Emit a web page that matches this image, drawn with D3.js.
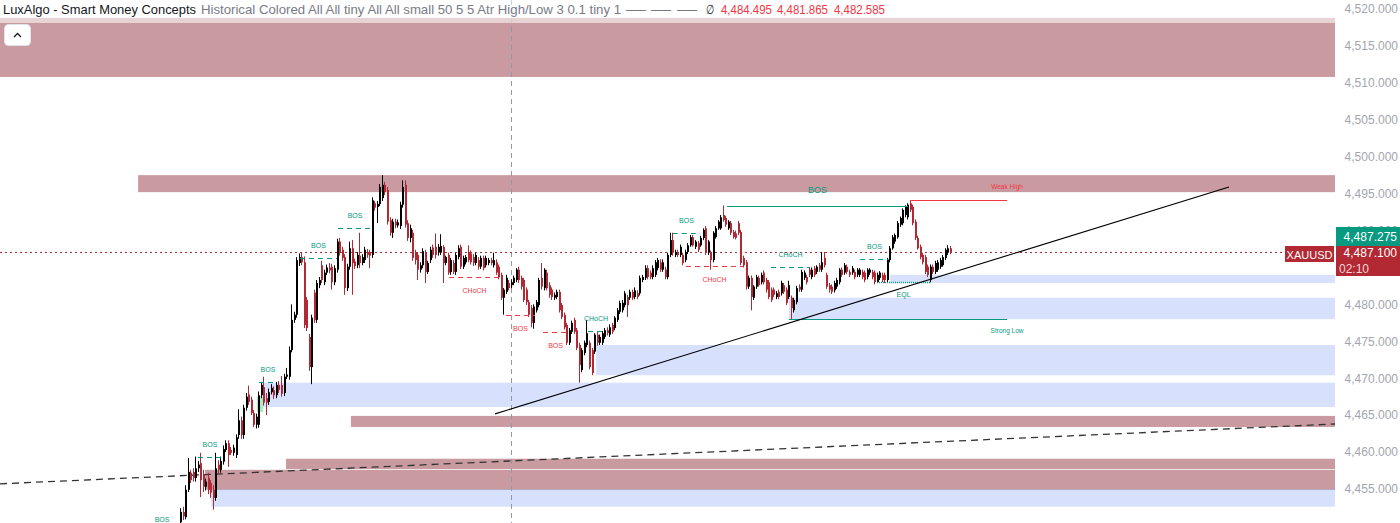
<!DOCTYPE html>
<html>
<head>
<meta charset="utf-8">
<script src="https://d3js.org/d3.v7.min.js"></script>
<style>
  body { margin: 0; background: #fff; }
  svg { display: block; font-family: "Liberation Sans", Arial, sans-serif; }
</style>
</head>
<body>
<main></main>
<script>
// ---- data ----
// candles: [open, high, low, close] (XAUUSD)
const candles = [
  [4450.5,4452.4,4450.0,4451.9],[4451.9,4452.6,4450.8,4451.3],[4451.2,4455.5,4450.9,4454.9],[4454.9,4459.2,4454.6,4457.3],
  [4457.2,4457.6,4455.8,4456.2],[4457.3,4457.8,4456.0,4456.5],[4456.5,4459.4,4456.0,4457.8],[4457.8,4458.8,4457.3,4458.3],
  [4458.5,4459.9,4453.9,4456.2],[4457.0,4457.6,4454.6,4455.3],[4455.3,4456.4,4454.8,4456.0],[4456.5,4457.2,4454.3,4454.9],
  [4455.8,4456.2,4453.8,4454.5],[4454.9,4455.5,4452.2,4453.8],[4453.8,4459.9,4453.4,4457.8],[4458.3,4458.9,4457.0,4457.6],
  [4457.6,4459.4,4457.2,4458.8],[4458.7,4460.9,4458.3,4460.4],[4460.3,4461.6,4460.0,4461.2],[4461.2,4461.6,4458.0,4459.6],
  [4460.3,4460.7,4459.6,4459.9],[4459.9,4461.0,4459.5,4460.6],[4459.6,4462.4,4459.2,4462.0],[4462.3,4465.8,4461.8,4464.3],
  [4464.3,4464.8,4461.8,4462.3],[4462.3,4466.4,4461.8,4466.0],[4466.0,4468.0,4465.6,4467.5],[4467.8,4469.0,4466.4,4466.8],
  [4467.1,4467.5,4465.0,4465.3],[4465.3,4465.7,4463.4,4463.7],[4463.7,4465.2,4463.2,4464.8],[4463.7,4468.2,4463.3,4467.7],
  [4467.7,4469.5,4467.3,4469.1],[4468.8,4470.2,4466.3,4466.7],[4467.3,4468.0,4465.0,4466.7],[4466.8,4468.6,4466.4,4468.1],
  [4468.1,4469.2,4467.8,4468.7],[4468.4,4468.9,4467.2,4467.7],[4467.7,4469.5,4467.3,4469.1],[4469.1,4469.6,4468.0,4468.4],
  [4469.1,4470.3,4467.5,4467.9],[4468.0,4470.6,4467.6,4470.2],[4470.2,4471.4,4469.9,4470.5],[4470.2,4474.3,4469.8,4473.8],
  [4473.8,4480.0,4473.5,4477.9],[4477.9,4479.0,4477.5,4478.6],[4478.6,4486.4,4478.2,4486.0],[4485.6,4486.9,4485.2,4486.4],
  [4486.4,4487.0,4485.3,4485.7],[4485.7,4486.5,4476.8,4477.2],[4480.6,4481.0,4476.4,4476.8],[4475.6,4476.0,4471.0,4471.5],
  [4471.5,4478.6,4469.2,4478.2],[4481.6,4482.0,4477.5,4477.9],[4477.9,4483.3,4477.5,4482.9],[4482.6,4483.7,4482.2,4483.3],
  [4485.3,4485.9,4482.9,4483.3],[4483.0,4484.7,4482.6,4484.3],[4484.3,4485.4,4484.0,4485.0],[4485.0,4485.6,4484.2,4484.6],
  [4485.1,4485.5,4482.0,4483.0],[4483.0,4485.3,4482.6,4484.9],[4484.7,4488.9,4484.3,4488.5],[4488.5,4489.0,4486.6,4487.0],
  [4487.4,4487.8,4485.9,4486.3],[4486.4,4486.8,4481.3,4482.2],[4482.2,4485.5,4481.8,4485.1],[4485.1,4488.5,4484.7,4487.6],
  [4487.6,4488.7,4481.3,4485.6],[4485.8,4486.2,4484.8,4485.2],[4485.3,4487.1,4484.9,4486.7],[4486.6,4489.7,4484.9,4485.6],
  [4485.6,4486.8,4485.3,4486.4],[4486.0,4487.8,4485.6,4487.4],[4487.1,4487.5,4486.3,4486.7],[4487.0,4487.4,4484.9,4486.6],
  [4486.7,4494.5,4486.3,4494.1],[4493.7,4494.0,4492.7,4493.1],[4493.2,4494.0,4491.0,4493.6],[4493.6,4496.3,4493.3,4495.9],
  [4494.4,4497.5,4494.0,4496.2],[4496.2,4496.6,4494.8,4495.2],[4495.5,4495.9,4490.8,4491.2],[4491.4,4491.8,4489.3,4489.7],
  [4489.7,4491.6,4489.0,4491.2],[4491.2,4491.6,4490.3,4490.7],[4490.7,4491.5,4490.4,4491.1],[4490.6,4493.9,4490.2,4493.5],
  [4493.5,4496.8,4493.1,4495.9],[4496.2,4496.8,4490.4,4490.8],[4491.0,4491.4,4488.6,4489.0],[4489.0,4490.8,4488.4,4490.3],
  [4489.7,4490.1,4485.9,4486.3],[4487.0,4487.4,4485.4,4486.0],[4486.7,4487.1,4483.3,4484.7],[4484.7,4485.7,4484.3,4485.3],
  [4485.3,4487.6,4484.9,4487.2],[4487.0,4487.4,4482.9,4484.4],[4484.4,4485.9,4484.1,4485.6],[4486.0,4487.8,4485.6,4487.4],
  [4487.7,4488.1,4486.3,4486.7],[4487.8,4489.6,4486.2,4486.7],[4487.0,4488.2,4486.6,4487.8],[4487.1,4489.5,4486.7,4487.9],
  // from the CHoCH shelf onwards
  [4487.8,4488.0,4482.9,4485.6],[4485.6,4486.6,4485.3,4486.4],[4486.7,4487.0,4484.0,4484.3],[4484.4,4486.3,4484.0,4486.0],
  [4485.6,4486.0,4484.1,4484.4],[4484.4,4487.0,4484.0,4486.7],[4486.4,4488.0,4486.1,4487.6],[4487.8,4488.1,4484.8,4485.1],
  [4485.1,4486.6,4484.8,4486.3],[4485.7,4486.7,4485.4,4486.4],[4487.1,4488.0,4485.7,4486.0],[4486.9,4487.3,4485.4,4485.7],
  [4486.4,4486.8,4485.2,4485.6],[4485.6,4487.0,4485.3,4486.7],[4486.0,4486.4,4484.7,4485.1],[4485.1,4486.6,4484.8,4486.3],
  [4486.3,4486.6,4484.6,4484.9],[4485.3,4486.6,4485.0,4486.3],[4485.6,4486.3,4485.3,4486.0],[4486.0,4486.3,4485.3,4485.6],
  [4485.3,4487.0,4485.0,4486.0],[4485.7,4486.1,4484.0,4484.3],[4485.1,4485.4,4483.4,4483.7],[4484.0,4484.3,4480.6,4480.9],
  [4480.9,4482.2,4478.6,4482.0],[4481.7,4484.0,4481.4,4483.6],[4482.9,4483.3,4481.9,4482.2],[4482.6,4483.4,4482.2,4483.0],
  [4482.9,4483.9,4482.6,4483.6],[4483.3,4484.9,4483.0,4484.7],[4484.7,4485.1,4482.9,4483.3],[4483.6,4483.9,4482.0,4482.4],
  [4483.3,4483.6,4480.3,4480.6],[4482.0,4482.3,4479.9,4480.3],[4480.3,4480.6,4478.3,4478.6],[4479.5,4479.9,4476.9,4477.5],
  [4477.5,4480.0,4476.7,4479.7],[4479.2,4480.6,4478.9,4480.3],[4479.9,4483.6,4479.6,4483.3],[4483.6,4485.6,4482.0,4482.4],
  [4482.2,4484.9,4481.9,4484.7],[4484.3,4484.7,4481.9,4482.2],[4482.6,4483.0,4480.9,4481.3],[4482.0,4482.3,4480.6,4481.0],
  [4480.9,4481.6,4480.6,4481.3],[4481.0,4482.0,4480.7,4481.7],[4481.7,4482.0,4478.9,4479.2],[4479.9,4480.2,4478.0,4478.3],
  [4478.6,4478.9,4476.6,4476.9],[4477.2,4477.5,4474.5,4474.8],[4474.8,4476.8,4474.5,4476.5],[4476.3,4477.8,4476.0,4477.5],
  [4477.9,4478.2,4476.0,4476.3],[4476.5,4476.8,4473.8,4474.1],[4474.5,4474.8,4469.4,4471.8],[4471.1,4474.1,4470.8,4473.8],
  [4473.4,4475.1,4473.1,4474.8],[4474.5,4477.9,4474.2,4476.1],[4474.8,4475.1,4471.2,4471.5],[4473.8,4474.1,4470.4,4470.7],
  [4473.6,4476.1,4473.3,4475.9],[4475.9,4476.3,4474.4,4474.8],[4474.8,4475.9,4474.5,4475.6],[4474.8,4476.4,4474.5,4476.1],
  [4475.6,4476.8,4475.3,4476.5],[4476.5,4476.9,4475.8,4476.1],[4475.9,4477.3,4475.6,4476.9],[4477.2,4477.5,4476.0,4476.3],
  [4476.8,4478.4,4476.5,4478.2],[4477.9,4479.5,4477.6,4479.2],[4479.0,4480.5,4478.7,4480.2],[4479.2,4480.6,4478.9,4480.2],
  [4479.9,4481.8,4479.6,4481.5],[4481.0,4481.3,4478.3,4479.9],[4480.9,4482.0,4480.6,4481.7],[4481.7,4482.0,4480.6,4480.9],
  [4481.0,4482.3,4480.7,4481.9],[4481.5,4481.9,4480.7,4481.0],[4481.5,4483.9,4481.2,4483.6],[4483.3,4484.0,4483.0,4483.7],
  [4483.6,4485.3,4483.3,4484.9],[4484.9,4485.3,4483.4,4483.7],[4484.3,4484.6,4483.4,4483.7],[4483.7,4485.3,4483.4,4484.9],
  [4484.0,4486.0,4483.7,4485.7],[4484.9,4486.3,4484.6,4486.0],[4485.7,4486.1,4484.4,4484.7],[4484.7,4486.1,4484.4,4485.7],
  [4484.7,4485.1,4483.4,4483.7],[4483.7,4487.0,4483.4,4486.7],[4486.7,4489.7,4486.4,4488.7],[4488.7,4489.7,4486.6,4487.0],
  [4486.7,4487.4,4486.4,4487.1],[4487.1,4487.4,4486.4,4486.7],[4486.7,4488.1,4486.4,4487.8],[4486.7,4487.0,4485.3,4485.6],
  [4486.0,4487.4,4485.7,4487.1],[4487.1,4488.3,4486.8,4488.0],[4488.0,4489.4,4487.8,4489.1],[4489.1,4489.4,4487.8,4488.0],
  [4487.8,4488.7,4487.5,4488.5],[4488.3,4488.6,4487.1,4487.4],[4488.0,4489.3,4487.8,4489.0],[4489.0,4490.3,4488.7,4490.1],
  [4490.3,4490.6,4486.7,4487.0],[4487.0,4488.7,4486.7,4488.5],[4487.0,4487.3,4484.7,4486.0],[4486.0,4489.9,4485.7,4489.7],
  [4489.1,4490.6,4488.9,4490.3],[4490.3,4491.4,4490.1,4491.2],[4490.3,4492.1,4490.1,4491.8],[4492.1,4493.4,4491.2,4491.4],
  [4491.7,4492.0,4490.5,4490.8],[4490.3,4491.4,4490.1,4491.2],[4491.0,4491.3,4489.4,4489.7],[4489.8,4490.1,4488.9,4489.1],
  [4489.6,4490.0,4488.8,4489.0],[4491.0,4491.3,4489.4,4489.7],[4489.8,4490.1,4485.3,4485.6],[4486.3,4486.6,4485.0,4485.3],
  [4485.7,4486.0,4482.0,4482.4],[4482.4,4483.9,4482.1,4483.6],[4483.6,4483.9,4479.2,4481.0],[4480.9,4482.6,4480.6,4482.4],
  [4482.4,4484.0,4482.1,4483.7],[4483.6,4483.9,4482.4,4482.6],[4483.0,4484.3,4482.7,4484.0],[4484.3,4484.6,4482.7,4483.0],
  [4483.3,4483.6,4481.6,4482.0],[4483.0,4483.3,4480.7,4481.0],[4482.0,4482.3,4480.3,4480.6],[4482.0,4482.3,4481.0,4481.3],
  [4481.0,4481.8,4480.7,4481.5],[4481.7,4482.0,4480.7,4481.0],[4481.5,4483.2,4481.2,4482.9],[4482.6,4482.9,4481.4,4481.7],
  [4482.0,4482.3,4479.9,4480.2],[4481.0,4483.2,4480.7,4482.6],[4480.9,4481.2,4478.0,4479.5],[4479.2,4480.9,4478.9,4480.6],
  [4480.3,4482.5,4480.0,4482.2],[4482.4,4482.7,4481.7,4482.0],[4482.0,4484.7,4481.7,4484.4],[4483.6,4484.6,4483.3,4484.3],
  [4483.7,4484.0,4482.7,4483.0],[4484.7,4485.0,4483.7,4484.0],[4483.7,4485.0,4483.4,4484.7],[4484.9,4485.2,4483.7,4484.0],
  [4484.4,4485.3,4484.1,4485.1],[4485.3,4485.6,4484.4,4484.7],[4484.7,4487.1,4484.4,4485.7],[4486.3,4487.1,4485.0,4485.3],
  [4484.0,4484.3,4482.1,4482.4],[4482.6,4482.9,4481.6,4482.0],[4482.4,4482.7,4481.4,4481.7],[4481.9,4483.2,4481.6,4482.9],
  [4482.4,4483.6,4482.1,4483.3],[4483.0,4484.9,4482.7,4484.7],[4484.7,4485.0,4483.7,4484.0],[4484.3,4485.6,4484.0,4485.3],
  [4485.1,4485.4,4484.1,4484.4],[4484.4,4484.7,4483.7,4484.0],[4484.3,4485.2,4484.0,4484.9],[4484.4,4484.7,4483.4,4483.7],
  [4484.0,4484.9,4483.7,4484.7],[4484.0,4484.9,4483.7,4484.7],[4484.4,4484.7,4483.4,4483.7],[4484.3,4484.6,4483.0,4483.3],
  [4483.7,4484.9,4483.4,4484.7],[4484.3,4484.9,4484.0,4484.7],[4484.4,4484.7,4483.4,4483.7],[4484.3,4484.6,4482.7,4483.0],
  [4483.0,4484.3,4482.9,4484.0],[4483.6,4484.5,4483.3,4484.3],[4484.0,4484.3,4483.0,4483.3],[4484.0,4484.3,4482.9,4483.3],
  [4483.3,4486.3,4483.0,4486.0],[4486.0,4487.9,4485.7,4487.6],[4487.6,4489.4,4487.4,4489.1],[4488.5,4489.6,4488.2,4489.4],
  [4489.1,4491.3,4488.9,4491.0],[4490.8,4491.9,4490.5,4491.7],[4491.0,4493.0,4490.7,4492.8],[4492.1,4493.4,4491.8,4493.2],
  [4491.8,4493.7,4491.5,4493.5],[4493.7,4494.1,4492.5,4492.8],[4493.2,4493.5,4490.7,4491.0],[4491.2,4491.5,4488.7,4489.0],
  [4489.0,4489.3,4487.4,4487.6],[4487.8,4488.1,4486.1,4486.4],[4486.7,4487.0,4485.4,4485.7],[4486.4,4486.7,4484.1,4484.4],
  [4485.1,4485.4,4483.7,4484.0],[4483.3,4485.4,4483.0,4485.1],[4485.1,4485.4,4484.1,4484.4],[4484.4,4485.9,4484.1,4485.6],
  [4484.7,4486.0,4484.4,4485.7],[4485.1,4486.3,4484.8,4486.0],[4485.3,4486.7,4485.1,4486.4],[4486.3,4487.6,4486.0,4487.4],
  [4487.0,4488.0,4486.7,4487.6],[4487.6,4487.9,4486.8,4487.1]
];

// 4,485 sits under the last-price tag, so it is not listed
const priceTicks = [4455, 4460, 4465, 4470, 4475, 4480, 4490, 4495, 4500, 4505, 4510, 4515, 4520];

// order-block / imbalance zones: start bar, top, bottom
const zoneStart  = [-72, -16.6, 281.2, 241.2, 164.8, 32.9, 67.7, 42.0, 9.9, 12.3];
const zoneTop    = [4518.8, 4497.5, 4484.0, 4480.9, 4474.5, 4469.4, 4464.9, 4459.1, 4457.6, 4455.0];
const zoneBottom = [4510.8, 4495.2, 4482.9, 4478.0, 4470.4, 4466.1, 4463.4, 4457.7, 4454.9, 4452.6];
const zoneKind   = ["bear", "bear", "bull", "bull", "bull", "bull", "bear", "bear", "bear", "bull"];

// structure breaks: label, from bar, to bar, level, bullish?
const structLabel = ["BOS", "BOS", "BOS", "BOS", "CHoCH", "BOS", "BOS", "CHoCH", "BOS", "CHoCH", "CHoCH", "BOS"];
const structFrom  = [7.1, 31.3, 47.5, 62.6, 106.6, 129.1, 143.8, 161.6, 195.2, 200.4, 234.1, 269.4];
const structTo    = [16.6, 38.4, 62.2, 76.1, 126.8, 140.6, 153.7, 168.0, 206.0, 223.0, 249.5, 280.8];
const structLevel = [4459.3, 4469.5, 4486.3, 4490.35, 4483.7, 4478.6, 4476.3, 4476.4, 4489.7, 4485.2, 4485.1, 4486.1];
const structBull  = [true, true, true, true, false, false, false, true, true, false, true, true];

const lastPrice = 4487.1;
const bidPrice = 4487.275;

// ---- layout ----
const width = 1400, height = 523;
const plotRight = 1335;

const svg = d3.select("main").append("svg")
  .attr("width", width)
  .attr("height", height);

const x = d3.scaleLinear().domain([0, candles.length - 1]).range([180, 950]);
const y = d3.scaleLinear().domain([4455, 4520]).range([489, 9]);

const teal = "#089981", red = "#f23645", candleRed = "#b22833";

const plot = svg.append("g");

// zones
const zones = zoneStart.map((s, i) => ({ s, top: zoneTop[i], bot: zoneBottom[i], kind: zoneKind[i] }));
plot.selectAll("rect.zone-bear").data(zones.filter(d => d.kind == "bear")).enter()
  .append("rect")
  .attr("x", d => Math.max(0, x(d.s)))
  .attr("y", d => y(d.top))
  .attr("width", d => plotRight - Math.max(0, x(d.s)))
  .attr("height", d => y(d.bot) - y(d.top))
  .attr("fill", "#c99ba0");

plot.selectAll("rect.zone-bull").data(zones.filter(d => d.kind == "bull")).enter()
  .append("rect")
  .attr("x", d => x(d.s))
  .attr("y", d => y(d.top))
  .attr("width", d => plotRight - x(d.s))
  .attr("height", d => y(d.bot) - y(d.top))
  .attr("fill", "rgba(40,98,245,0.19)");

// small fvg box
plot.append("rect")
  .attr("x", x(30.5)).attr("y", y(4467.5))
  .attr("width", x(32.9) - x(30.5)).attr("height", y(4465.4) - y(4467.5))
  .attr("fill", "#a6eec4");

// vertical session separator
plot.append("line")
  .attr("x1", Math.round(x(131.1)) + 0.5).attr("x2", Math.round(x(131.1)) + 0.5)
  .attr("y1", 0).attr("y2", height)
  .attr("stroke", "#9598a1").attr("stroke-dasharray", "5,4");

// long dashed trend line
plot.append("line")
  .attr("x1", x(-71.3)).attr("y1", y(4455.7))
  .attr("x2", x(457.5)).attr("y2", y(4463.8))
  .attr("stroke", "#333").attr("stroke-width", 1.3).attr("stroke-dasharray", "7,5");

// last price dotted line
plot.append("line")
  .attr("x1", 0).attr("x2", 1284)
  .attr("y1", Math.round(y(lastPrice)) + 0.5).attr("y2", Math.round(y(lastPrice)) + 0.5)
  .attr("stroke", candleRed).attr("stroke-dasharray", "2,3");

// candles
const cg = plot.append("g");
cg.selectAll("line").data(candles).enter().append("line")
  .attr("x1", (d, i) => Math.round(x(i)) + 0.5)
  .attr("x2", (d, i) => Math.round(x(i)) + 0.5)
  .attr("y1", d => y(d[1]))
  .attr("y2", d => y(d[2]))
  .attr("stroke", d => d[3] >= d[0] ? "#000" : candleRed);

cg.selectAll("rect").data(candles).enter().append("rect")
  .attr("x", (d, i) => Math.round(x(i)))
  .attr("y", d => y(Math.max(d[0], d[3])))
  .attr("width", 2)
  .attr("height", d => Math.max(1, Math.abs(y(d[0]) - y(d[3]))))
  .attr("fill", d => d[3] >= d[0] ? "#000" : candleRed);

// structure lines + labels
const structs = structLabel.map((t, i) => ({ t, a: structFrom[i], b: structTo[i], p: structLevel[i], bull: structBull[i] }));
plot.selectAll("line.struct").data(structs).enter().append("line")
  .attr("x1", d => x(d.a)).attr("x2", d => x(d.b))
  .attr("y1", d => Math.round(y(d.p)) + 0.5).attr("y2", d => Math.round(y(d.p)) + 0.5)
  .attr("stroke", d => d.bull ? teal : red)
  .attr("stroke-width", 1.2)
  .attr("stroke-dasharray", "5,4");

plot.selectAll("text.struct").data(structs).enter().append("text")
  .attr("x", d => (x(d.a) + x(d.b)) / 2)
  .attr("y", d => y(d.p) + (d.bull ? -12 : 14))
  .attr("text-anchor", "middle")
  .attr("dominant-baseline", "middle")
  .attr("font-size", 7)
  .attr("fill", d => d.bull ? teal : red)
  .text(d => d.t);

// bottom-left BOS label (line off screen)
plot.append("text")
  .attr("x", x(-7.1)).attr("y", y(4450.8))
  .attr("text-anchor", "middle").attr("dominant-baseline", "middle")
  .attr("font-size", 7).attr("fill", teal).text("BOS");

// swing BOS (solid)
plot.append("line")
  .attr("x1", x(216.7)).attr("x2", x(288.4))
  .attr("y1", Math.round(y(4493.3)) + 0.5).attr("y2", Math.round(y(4493.3)) + 0.5)
  .attr("stroke", teal);
plot.append("text")
  .attr("x", (x(216.7) + x(288.4)) / 2).attr("y", y(4493.3) - 16)
  .attr("text-anchor", "middle").attr("dominant-baseline", "middle")
  .attr("font-size", 9).attr("fill", teal).text("BOS");

// weak high / strong low
plot.append("line")
  .attr("x1", x(289.2)).attr("x2", x(327.6))
  .attr("y1", Math.round(y(4494.1)) + 0.5).attr("y2", Math.round(y(4494.1)) + 0.5)
  .attr("stroke", red);
plot.append("text")
  .attr("x", x(327.6)).attr("y", y(4494.1) - 13)
  .attr("text-anchor", "middle").attr("dominant-baseline", "middle")
  .attr("font-size", 6.5).attr("fill", red).text("Weak High");

plot.append("line")
  .attr("x1", x(241.2)).attr("x2", x(327.6))
  .attr("y1", Math.round(y(4478.0)) + 0.5).attr("y2", Math.round(y(4478.0)) + 0.5)
  .attr("stroke", teal);
plot.append("text")
  .attr("x", x(327.6)).attr("y", y(4478.0) + 12)
  .attr("text-anchor", "middle").attr("dominant-baseline", "middle")
  .attr("font-size", 6.5).attr("fill", teal).text("Strong Low");

// equal lows
plot.append("line")
  .attr("x1", x(276.1)).attr("x2", x(297.1))
  .attr("y1", Math.round(y(4483.0)) + 0.5).attr("y2", Math.round(y(4483.0)) + 0.5)
  .attr("stroke", teal).attr("stroke-width", 1.3).attr("stroke-dasharray", "1,1");
plot.append("text")
  .attr("x", (x(276.1) + x(297.1)) / 2).attr("y", y(4483.0) + 13)
  .attr("text-anchor", "middle").attr("dominant-baseline", "middle")
  .attr("font-size", 7).attr("fill", teal).text("EQL");

// rising trend line
plot.append("line")
  .attr("x1", x(124.8)).attr("y1", y(4465.17))
  .attr("x2", x(415.5)).attr("y2", y(4495.9))
  .attr("stroke", "#000").attr("stroke-width", 1.1);

// ---- price axis ----
const axis = svg.append("g")
  .attr("transform", `translate(1398,0)`)
  .call(d3.axisLeft(y).tickValues(priceTicks).tickSize(0).tickFormat(d3.format(",.3f")));
axis.select(".domain").remove();
axis.selectAll("text")
  .attr("x", 0)
  .attr("fill", "#a3a6af")
  .attr("font-size", 12)
  .attr("font-family", "Liberation Sans, Arial, sans-serif");

// price tags
svg.append("rect").attr("x", 1336).attr("y", 227).attr("width", 64).attr("height", 19).attr("fill", teal);
svg.append("text").attr("x", 1397).attr("y", 240.5).attr("text-anchor", "end")
  .attr("font-size", 12).attr("fill", "#fff").text(d3.format(",.3f")(bidPrice));

svg.append("rect").attr("x", 1336).attr("y", 246).attr("width", 64).attr("height", 30).attr("fill", candleRed);
svg.append("text").attr("x", 1397).attr("y", 257).attr("text-anchor", "end")
  .attr("font-size", 12).attr("fill", "#fff").text(d3.format(",.3f")(lastPrice));
svg.append("text").attr("x", 1339).attr("y", 272.5)
  .attr("font-size", 12).attr("fill", "#f4d4d7").text("02:10");

svg.append("rect").attr("x", 1285).attr("y", 246).attr("width", 49).attr("height", 16).attr("fill", candleRed);
svg.append("text").attr("x", 1309.5).attr("y", 258.5).attr("text-anchor", "middle")
  .attr("font-size", 11).attr("fill", "#fff").text("XAUUSD");

// ---- header legend ----
svg.append("rect").attr("x", 0).attr("y", 0).attr("width", plotRight).attr("height", 23)
  .attr("fill", "#fff").attr("fill-opacity", 0.55);

const legendParts = [
  { x: 3,   len: 193, fill: "#131722", t: "LuxAlgo - Smart Money Concepts" },
  { x: 201, len: 420, fill: "#787b86", t: "Historical Colored All All tiny All All small 50 5 5 Atr High/Low 3 0.1 tiny 1" },
  { x: 626, len: 20,  fill: "#787b86", t: "——" },
  { x: 651, len: 20,  fill: "#787b86", t: "——" },
  { x: 677, len: 20,  fill: "#787b86", t: "——" },
  { x: 706, len: 8,   fill: "#131722", t: "∅" },
  { x: 721, len: 51,  fill: red, t: "4,484.495" },
  { x: 777, len: 51,  fill: red, t: "4,481.865" },
  { x: 834, len: 51,  fill: red, t: "4,482.585" }
];
svg.selectAll("text.legend").data(legendParts).enter().append("text")
  .attr("x", d => d.x).attr("y", 14)
  .attr("font-size", 13)
  .attr("fill", d => d.fill)
  .attr("textLength", d => d.len)
  .attr("lengthAdjust", "spacingAndGlyphs")
  .text(d => d.t);

// collapse button
svg.append("rect").attr("x", 4.5).attr("y", 24.5).attr("width", 26).attr("height", 21).attr("rx", 4)
  .attr("fill", "#fff").attr("stroke", "#e0e3eb");
svg.append("path").attr("d", "M14,37 L17.5,33.5 L21,37")
  .attr("fill", "none").attr("stroke", "#131722").attr("stroke-width", 1.3);
</script>
</body>
</html>
